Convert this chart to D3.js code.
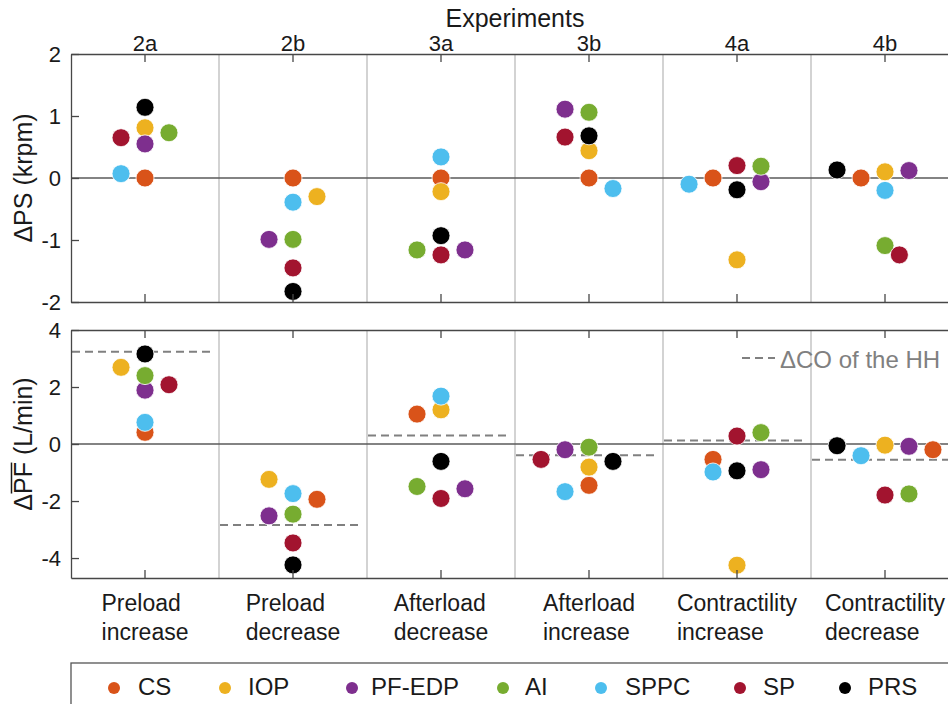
<!DOCTYPE html>
<html>
<head>
<meta charset="utf-8">
<script src="https://cdn.jsdelivr.net/npm/d3@7"></script>
<style>
  html, body { margin: 0; padding: 0; background: #fff; }
  svg { display: block; font-family: "Liberation Sans", Arial, Helvetica, sans-serif; }
</style>
</head>
<body>
<svg id="chart" width="948" height="704"></svg>
<script>
// ---- data ----------------------------------------------------------------
const experiments = ["2a", "2b", "3a", "3b", "4a", "4b"];
const interventions = [
  ["Preload", "increase"], ["Preload", "decrease"],
  ["Afterload", "decrease"], ["Afterload", "increase"],
  ["Contractility", "increase"], ["Contractility", "decrease"]
];
const seriesNames  = ["CS", "IOP", "PF-EDP", "AI", "SPPC", "SP", "PRS"];
const seriesColors = ["#D95319", "#EDB120", "#7E2F8E", "#77AC30", "#4DBEEE", "#A2142F", "#000000"];

// ΔPS (krpm), one row per controller, one column per experiment
const psValues = [
  [0.00, 0.00, 0.00, 0.00, 0.00, 0.00],      // CS
  [0.81, -0.30, -0.22, 0.44, -1.32, 0.10],   // IOP
  [0.55, -0.99, -1.16, 1.11, -0.06, 0.12],   // PF-EDP
  [0.73, -0.99, -1.16, 1.06, 0.19, -1.09],   // AI
  [0.07, -0.39, 0.34, -0.17, -0.10, -0.20],  // SPPC
  [0.65, -1.45, -1.24, 0.66, 0.20, -1.24],   // SP
  [1.14, -1.83, -0.93, 0.68, -0.19, 0.13]    // PRS
];
// side-by-side dodge slot of each ΔPS marker
const psDodge = [
  [0, 0, 0, 0, -1, -1],
  [0, 1, 0, 0, 0, 0],
  [0, -1, 1, -1, 1, 1],
  [1, 0, -1, 0, 1, 0],
  [-1, 0, 0, 1, -2, 0],
  [-1, 0, 0, -1, 0, 0.6],
  [0, 0, 0, 0, 0, -2]
];

// ΔPF mean (L/min)
const pfValues = [
  [0.41, -1.94, 1.05, -1.45, -0.54, -0.20],  // CS
  [2.69, -1.24, 1.20, -0.81, -4.25, -0.04],  // IOP
  [1.89, -2.52, -1.57, -0.20, -0.90, -0.08], // PF-EDP
  [2.40, -2.46, -1.49, -0.11, 0.40, -1.75],  // AI
  [0.76, -1.74, 1.68, -1.67, -0.98, -0.41],  // SPPC
  [2.08, -3.47, -1.91, -0.54, 0.28, -1.79],  // SP
  [3.16, -4.24, -0.61, -0.61, -0.94, -0.06]  // PRS
];
const pfDodge = [
  [0, 1, -1, 0, -1, 2],
  [-1, -1, 0, 0, 0, 0],
  [0, -1, 1, -1, 1, 1],
  [0, 0, -1, 0, 1, 1],
  [0, 0, 0, -1, -1, -1],
  [1, 0, 0, -2, 0, 0],
  [0, 0, 0, 1, 0, -2]
];

// ΔCO of the healthy heart per experiment (L/min)
const hhCO = [3.24, -2.84, 0.30, -0.39, 0.12, -0.55];

const psTicks = [-2, -1, 0, 1, 2];
const pfTicks = [-4, -2, 0, 2, 4];

// ---- layout --------------------------------------------------------------
const svg = d3.select("#chart");
const plotLeft = 71, plotRight = 959;
const axisColor = "#474747", textColor = "#1a1a1a";

const x = d3.scaleBand().domain(experiments).range([plotLeft, plotRight]).padding(0);
const dodgeStep = x.bandwidth() * 0.162;
const centre = j => x(experiments[j]) + x.bandwidth() / 2;

const yPS = d3.scaleLinear().domain([-2, 2]).range([302, 54]);
const yPF = d3.scaleLinear().domain([-4.7, 4]).range([578, 330]);

function styleAxis(g, fontSize) {
  g.attr("font-family", null).attr("font-size", fontSize);
  g.select(".domain").attr("stroke", axisColor).attr("stroke-width", 1.3);
  g.selectAll(".tick line").attr("stroke", axisColor).attr("stroke-width", 1.3);
  g.selectAll(".tick text").attr("fill", textColor);
}

function drawPanel(y, values, dodge, ticks, showTopLabels, refLine) {
  const [yBottom, yTop] = y.range();
  const panel = svg.append("g");

  // category separators
  panel.selectAll("line.sep")
    .data(experiments.slice(1))
    .join("line")
    .attr("x1", d => x(d)).attr("x2", d => x(d))
    .attr("y1", yTop).attr("y2", yBottom)
    .attr("stroke", "#c4c4c4").attr("stroke-width", 1.5);

  // zero line
  panel.append("line")
    .attr("x1", plotLeft).attr("x2", plotRight)
    .attr("y1", y(0)).attr("y2", y(0))
    .attr("stroke", "#5a5a5a").attr("stroke-width", 1.3);

  // healthy-heart reference
  if (refLine) {
    panel.selectAll("line.ref")
      .data(refLine)
      .join("line")
      .attr("x1", (d, j) => x(experiments[j]) + 1)
      .attr("x2", (d, j) => x(experiments[j]) + x.bandwidth() - 4)
      .attr("y1", d => y(d)).attr("y2", d => y(d))
      .attr("stroke", "#808080").attr("stroke-width", 2)
      .attr("stroke-dasharray", "8,5");
  }

  // markers, one controller after another
  values.forEach((row, i) => {
    panel.append("g").selectAll("circle")
      .data(row)
      .join("circle")
      .attr("cx", (d, j) => centre(j) + dodge[i][j] * dodgeStep)
      .attr("cy", d => y(d))
      .attr("r", 9)
      .attr("fill", seriesColors[i])
      .attr("stroke", "#fff").attr("stroke-width", 0.8);
  });

  // axes
  const left = panel.append("g").attr("transform", `translate(${plotLeft},0)`)
    .call(d3.axisLeft(y).tickValues(ticks).tickFormat(d => String(d))
      .tickSizeInner(-8).tickSizeOuter(0).tickPadding(10));
  styleAxis(left, 22);

  const top = panel.append("g").attr("transform", `translate(0,${yTop})`)
    .call(d3.axisTop(x).tickSizeInner(-8).tickSizeOuter(0).tickPadding(3)
      .tickFormat(showTopLabels ? (d => d) : () => ""));
  styleAxis(top, 22);

  const bottom = panel.append("g").attr("transform", `translate(0,${yBottom})`)
    .call(d3.axisBottom(x).tickSizeInner(-8).tickSizeOuter(0).tickFormat(() => ""));
  styleAxis(bottom, 22);
}

drawPanel(yPS, psValues, psDodge, psTicks, true, null);
drawPanel(yPF, pfValues, pfDodge, pfTicks, false, hhCO);

// top title
svg.append("text")
  .attr("x", (plotLeft + plotRight) / 2).attr("y", 27)
  .attr("text-anchor", "middle").attr("font-size", 25).attr("fill", textColor)
  .text("Experiments");

// y-axis titles
svg.append("text")
  .attr("transform", `translate(32,${(yPS.range()[0] + yPS.range()[1]) / 2}) rotate(-90)`)
  .attr("text-anchor", "middle").attr("font-size", 25).attr("fill", textColor)
  .text("ΔPS (krpm)");

const pfTitle = svg.append("g")
  .attr("transform", `translate(32,${yPF(0)}) rotate(-90)`);
const pfText = pfTitle.append("text")
  .attr("text-anchor", "middle").attr("font-size", 25).attr("fill", textColor)
  .text("ΔPF (L/min)");
{
  const n = pfText.node();
  const a = n.getStartPositionOfChar(1).x;
  const b = n.getEndPositionOfChar(2).x;
  pfTitle.append("line")
    .attr("x1", a + 0.5).attr("x2", b - 0.5)
    .attr("y1", -20.5).attr("y2", -20.5)
    .attr("stroke", textColor).attr("stroke-width", 1.5);
}

// intervention labels under the lower panel (two lines, block centred)
interventions.forEach((lines, j) => {
  const g = svg.append("g");
  const texts = lines.map((s, k) => g.append("text")
    .attr("y", 611 + k * 29)
    .attr("font-size", 23).attr("fill", textColor)
    .text(s));
  const w = d3.max(texts, t => t.node().getComputedTextLength());
  texts.forEach(t => t.attr("x", centre(j) - w / 2));
});

// reference-line legend inside the lower panel
svg.append("line")
  .attr("x1", 742).attr("x2", 775).attr("y1", 358).attr("y2", 358)
  .attr("stroke", "#808080").attr("stroke-width", 2).attr("stroke-dasharray", "8,5");
svg.append("text")
  .attr("x", 780).attr("y", 368)
  .attr("font-size", 24).attr("fill", "#808080")
  .text("ΔCO of the HH");

// controller legend
svg.append("rect")
  .attr("x", plotLeft).attr("y", 663)
  .attr("width", plotRight - plotLeft).attr("height", 60)
  .attr("fill", "#fff").attr("stroke", "#555").attr("stroke-width", 1.3);

const legendDotX  = [114, 225, 352, 503, 601, 740, 845];
const legendTextX = [138, 248, 371, 525, 625, 763, 868];
const legend = svg.append("g");
seriesNames.forEach((name, i) => {
  legend.append("circle")
    .attr("cx", legendDotX[i]).attr("cy", 688).attr("r", 6)
    .attr("fill", seriesColors[i]);
  legend.append("text")
    .attr("x", legendTextX[i]).attr("y", 695)
    .attr("font-size", 24).attr("fill", textColor)
    .text(name);
});
</script>
</body>
</html>
